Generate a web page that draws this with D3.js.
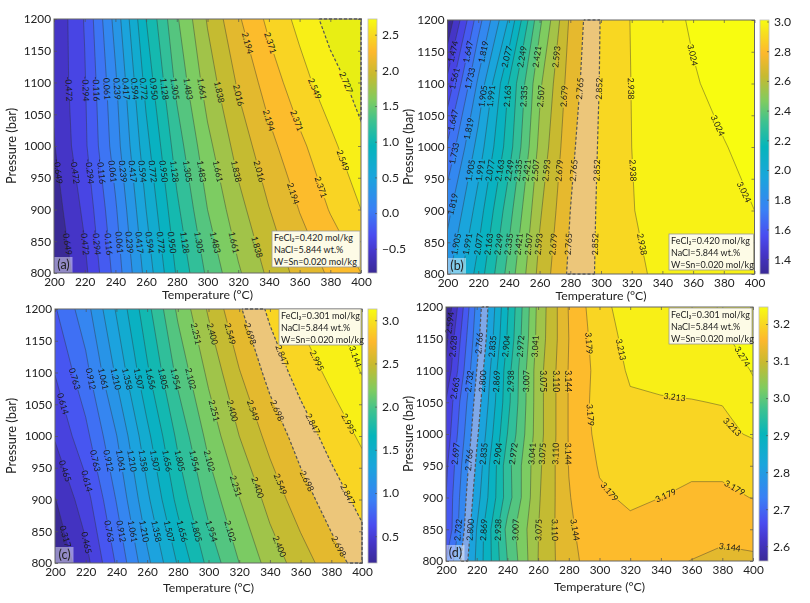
<!DOCTYPE html>
<html>
<head>
<meta charset="utf-8">
<script src="https://cdn.jsdelivr.net/npm/d3@7"></script>
<style>
  body { margin: 0; background: #fff; }
  svg { filter: blur(0.35px); }
  text { font-family: Lato, "Open Sans", sans-serif; fill: #222; }
  .tick line { stroke: #555; stroke-width: .7; }
  .domain { display: none; }
</style>
</head>
<body>
<div id="chart"></div>
<script>
const temps = [200, 220, 240, 260, 280, 300, 320, 340, 360, 380, 400]
const pressures = [800, 900, 1000, 1100, 1200]
const pressuresFine = [800, 850, 900, 950, 1000, 1050, 1100, 1150, 1200]

// one row per pressure, one value per temperature
const zA = [
  [-0.82, -0.52, -0.055, 0.48, 0.97, 1.34, 1.635, 1.875, 2.08, 2.22, 2.371],
  [-0.74, -0.43, 0.035, 0.594, 1.09, 1.483, 1.775, 2.01, 2.20, 2.383, 2.549],
  [-0.66, -0.33, 0.15, 0.71, 1.216, 1.61, 1.91, 2.14, 2.33, 2.506, 2.68],
  [-0.62, -0.31, 0.21, 0.83, 1.35, 1.745, 2.04, 2.275, 2.48, 2.65, 2.80],
  [-0.63, -0.28, 0.305, 0.95, 1.46, 1.855, 2.17, 2.415, 2.60, 2.80, 2.90]
]
const zB = [
  [1.885, 2.11, 2.37, 2.62, 2.785, 2.87, 2.92, 2.955, 2.975, 2.985, 2.995],
  [1.79, 2.03, 2.30, 2.58, 2.765, 2.87, 2.935, 2.965, 2.985, 3.005, 3.024],
  [1.66, 1.94, 2.21, 2.53, 2.745, 2.866, 2.938, 2.962, 2.99, 3.02, 3.05],
  [1.50, 1.835, 2.17, 2.49, 2.72, 2.86, 2.94, 2.975, 3.016, 3.05, 3.08],
  [1.32, 1.695, 2.00, 2.40, 2.695, 2.857, 2.943, 2.99, 3.035, 3.075, 3.11]
]
const zC = [
  [0.19, 0.41, 0.78, 1.17, 1.52, 1.85, 2.102, 2.31, 2.475, 2.63, 2.76],
  [0.31, 0.55, 0.92, 1.325, 1.70, 2.01, 2.245, 2.455, 2.63, 2.77, 2.895],
  [0.48, 0.72, 1.055, 1.465, 1.84, 2.15, 2.40, 2.60, 2.765, 2.905, 3.02],
  [0.62, 0.865, 1.235, 1.63, 1.995, 2.285, 2.54, 2.75, 2.91, 3.03, 3.15],
  [0.75, 1.00, 1.375, 1.755, 2.13, 2.42, 2.68, 2.88, 3.03, 3.14, 3.22]
]
const zD = [
  [2.697, 2.842, 2.972, 3.075, 3.137, 3.157, 3.162, 3.155, 3.143, 3.13, 3.138],
  [2.663, 2.836, 2.983, 3.074, 3.14, 3.16, 3.172, 3.168, 3.165, 3.16, 3.158],
  [2.663, 2.82, 2.955, 3.07, 3.142, 3.174, 3.184, 3.179, 3.172, 3.172, 3.18],
  [2.655, 2.807, 2.958, 3.066, 3.145, 3.182, 3.197, 3.197, 3.186, 3.186, 3.19],
  [2.64, 2.793, 2.938, 3.06, 3.146, 3.19, 3.205, 3.208, 3.21, 3.205, 3.217],
  [2.63, 2.78, 2.926, 3.06, 3.146, 3.195, 3.209, 3.211, 3.212, 3.214, 3.255],
  [2.60, 2.766, 2.922, 3.06, 3.146, 3.192, 3.217, 3.22, 3.222, 3.235, 3.278],
  [2.585, 2.752, 2.907, 3.053, 3.144, 3.198, 3.222, 3.228, 3.235, 3.265, 3.30],
  [2.56, 2.742, 2.90, 3.05, 3.146, 3.205, 3.225, 3.235, 3.245, 3.28, 3.32]
]

const levelsA = [-0.649, -0.472, -0.294, -0.116, 0.061, 0.239, 0.417, 0.594, 0.772, 0.950, 1.128, 1.305, 1.483, 1.661, 1.838, 2.016, 2.194, 2.371, 2.549, 2.727]
const levelsB = [1.389, 1.474, 1.561, 1.647, 1.733, 1.819, 1.905, 1.991, 2.077, 2.163, 2.249, 2.335, 2.421, 2.507, 2.593, 2.679, 2.765, 2.852, 2.938, 3.024]
const levelsC = [0.317, 0.465, 0.614, 0.763, 0.912, 1.061, 1.210, 1.358, 1.507, 1.656, 1.805, 1.954, 2.102, 2.251, 2.400, 2.549, 2.698, 2.847, 2.995, 3.144]
const levelsD = [2.594, 2.628, 2.663, 2.697, 2.732, 2.766, 2.800, 2.835, 2.869, 2.904, 2.938, 2.972, 3.007, 3.041, 3.075, 3.110, 3.144, 3.179, 3.213, 3.274]

// contour labels: [pressure, levels, optional temperature hint]
const rowA = [-0.472, -0.294, -0.116, 0.061, 0.239, 0.417, 0.594, 0.772, 0.950, 1.128, 1.305, 1.483, 1.661]
const labelsA = [
  [1090, rowA], [1085, [1.838]], [1080, [2.016]], [1162, [2.194, 2.371]], [1040, [2.194, 2.371]], [1090, [2.549]], [1100, [2.727]],
  [960, [-0.649]], [960, rowA], [960, [1.838, 2.016]], [925, [2.194]], [935, [2.371]], [977, [2.549]],
  [848, [-0.649]], [848, rowA], [841, [1.838]]
]
const labelsB = [
  [1150, [1.474, 1.647, 1.819]], [1142, [2.077, 2.249, 2.421, 2.593]],
  [1108, [1.561, 1.733]], [1080, [1.905, 1.991, 2.163, 2.335, 2.507, 2.679]], [1092, [2.765, 2.852, 2.938]],
  [1042, [1.647]], [1029, [1.819]], [990, [1.733]],
  [963, [1.905, 1.991, 2.077, 2.163, 2.249, 2.335, 2.421, 2.507, 2.593, 2.679, 2.765, 2.852, 2.938]],
  [910, [1.819]],
  [847, [1.905, 1.991, 2.077, 2.163, 2.249, 2.335, 2.421, 2.507, 2.593, 2.679, 2.765, 2.852, 2.938]],
  [1145, [3.024]], [1034, [3.024]], [929, [3.024]]
]
const rowC = [0.763, 0.912, 1.061, 1.210, 1.358, 1.507, 1.656, 1.805, 1.954, 2.102]
const labelsC = [
  [1090, rowC], [1161, [2.251, 2.400, 2.549, 2.698]], [1127, [2.847]], [1119, [2.995]], [1125, [3.144]],
  [1051, [0.614]], [1040, [2.251, 2.400, 2.549, 2.698]], [1019, [2.847, 2.995]],
  [961, rowC], [945, [0.465]], [929, [0.614, 2.698]], [921, [2.251]], [919, [2.400]], [924, [2.549]], [908, [2.847]],
  [850, rowC], [842, [0.317]], [832, [0.465]], [826, [2.400, 2.698]]
]
const labelsD = [
  [1175, [2.594]], [1138, [2.628, 2.835, 2.904, 2.972, 3.041]], [1143, [2.766, 3.179]], [1133, [3.213]], [1122, [3.274]],
  [1083, [2.732, 2.800, 2.869, 2.938, 3.007, 3.075, 3.110, 3.144]], [1072, [2.663]],
  [1059, [3.213], 349], [1017, [3.213], 389], [1030, [3.179]],
  [969, [2.697, 2.835, 2.904, 2.972, 3.041, 3.075, 3.110, 3.144]], [959, [2.766]],
  [900, [3.179], 303], [904, [3.179], 343], [915, [3.179], 388],
  [849, [2.732, 2.800, 2.869, 2.938, 3.007, 3.075, 3.110, 3.144]], [824, [3.144], 385]
]

const noteA = ["FeCl₂=0.420 mol/kg", "NaCl=5.844 wt.%", "W=Sn=0.020 mol/kg"]
const noteC = ["FeCl₂=0.301 mol/kg", "NaCl=5.844 wt.%", "W=Sn=0.020 mol/kg"]

const ticksA = [-0.5, 0, 0.5, 1, 1.5, 2, 2.5]
const ticksB = [1.4, 1.6, 1.8, 2, 2.2, 2.4, 2.6, 2.8, 3]
const ticksC = [0.5, 1, 1.5, 2, 2.5, 3]
const ticksD = [2.6, 2.7, 2.8, 2.9, 3, 3.1, 3.2]

const rampStops = [
  [0, "#3a2a96"], [0.08, "#4535c8"], [0.15, "#4a4cf0"], [0.25, "#3a80f5"], [0.38, "#1aa5dc"], [0.5, "#05b5bb"],
  [0.6, "#3fc28f"], [0.68, "#7fcc60"], [0.78, "#c7ba30"], [0.87, "#fdb82d"], [0.95, "#f7e01f"], [1, "#f8fc10"]
]
const ramp = d3.scaleLinear().domain(rampStops.map(d => d[0])).range(rampStops.map(d => d[1])).clamp(true)

const panels = [
  { id: "a", z: zA, ps: pressures, levels: levelsA, labels: labelsA, note: noteA, ticks: ticksA, domain: [-0.84, 2.72],
    left: 54, top: 19, barLeft: 368, band: [2.727, null], bandFill: "#e8ee14", noteAt: [272, 231], titleX: 12, titleDy: 26 },
  { id: "b", z: zB, ps: pressures, levels: levelsB, labels: labelsB, note: noteA, ticks: ticksB, domain: [1.30, 3.01],
    left: 447.5, top: 20, barLeft: 760, band: [2.765, 2.852], bandFill: "#ecc67a", noteAt: [669, 234], titleX: 409, titleDy: 26 },
  { id: "c", z: zC, ps: pressures, levels: levelsC, labels: labelsC, note: noteC, ticks: ticksC, domain: [0.19, 3.13],
    left: 55, top: 309, barLeft: 368, band: [2.698, 2.847], bandFill: "#ecc67a", noteAt: [279, 309], titleX: 12, titleDy: 29 },
  { id: "d", z: zD, ps: pressuresFine, levels: levelsD, labels: labelsD, note: noteC, ticks: ticksD, domain: [2.56, 3.246],
    left: 446, top: 307, barLeft: 759, band: [2.766, 2.800], bandFill: "#7fa8e8", noteAt: [669, 308], titleX: 409, titleDy: 30 }
]

const plotW = 307, plotH = 254, barW = 9

const svg = d3.select("#chart").append("svg").attr("width", 810).attr("height", 603)
const defs = svg.append("defs")

panels.forEach(drawPanel)

function drawPanel(p) {
  const x = d3.scaleLinear().domain([200, 400]).range([p.left, p.left + plotW])
  const y = d3.scaleLinear().domain([800, 1200]).range([p.top + plotH, p.top])
  const c = d3.scaleLinear().domain(p.domain).range([0, 1])
  const step = p.levels[1] - p.levels[0]
  // each band takes the colour of its middle value
  const color = v => ramp(c(v + step / 2))
  const g = svg.append("g")

  // d3.contours puts value i at coordinate i + 0.5
  const toT = d3.scaleLinear().domain([0.5, temps.length - 0.5]).range([200, 400])
  const toP = d3.scaleLinear().domain([0.5, p.ps.length - 0.5]).range([800, 1200])
  const path = d3.geoPath(d3.geoTransform({
    point(a, b) { this.stream.point(x(toT(a)), y(toP(b))) }
  }))
  const contours = d3.contours().size([temps.length, p.ps.length]).thresholds(p.levels)(p.z.flat())

  defs.append("clipPath").attr("id", "clip-" + p.id)
    .append("rect").attr("x", p.left).attr("y", p.top).attr("width", plotW).attr("height", plotH)

  const inner = g.append("g").attr("clip-path", `url(#clip-${p.id})`)
  inner.append("rect").attr("x", p.left).attr("y", p.top).attr("width", plotW).attr("height", plotH)
    .attr("fill", ramp(0))

  inner.selectAll("path.fill").data(contours).enter().append("path")
    .attr("class", "fill")
    .attr("d", path)
    .attr("fill", d => d.value === p.band[0] ? p.bandFill : color(d.value))

  // labels first, their boxes cut the lines
  const spots = placeLabels(p, x, y)
  const mask = defs.append("mask").attr("id", "gap-" + p.id).attr("maskUnits", "userSpaceOnUse")
    .attr("x", 0).attr("y", 0).attr("width", 810).attr("height", 603)
  mask.append("rect").attr("width", 810).attr("height", 603).attr("fill", "#fff")
  mask.selectAll("rect.gap").data(spots).enter().append("rect")
    .attr("class", "gap").attr("x", -11.5).attr("y", -3.5).attr("width", 23).attr("height", 7).attr("fill", "#000")
    .attr("transform", d => `translate(${d.px},${d.py}) rotate(${d.angle})`)

  const lines = inner.append("g").attr("mask", `url(#gap-${p.id})`).attr("fill", "none")
  lines.selectAll("path").data(contours).enter().append("path")
    .attr("d", path)
    .attr("stroke", d => p.band.includes(d.value) ? "#555" : "#333")
    .attr("stroke-opacity", d => p.band.includes(d.value) ? 1 : 0.7)
    .attr("stroke-width", d => p.band.includes(d.value) ? 1.2 : 0.6)
    .attr("stroke-dasharray", d => p.band.includes(d.value) ? "3,2" : null)

  // the highlighted band also runs dashed along the frame
  const bandD = contours.filter(d => p.band.includes(d.value)).map(path).join("")
  defs.append("clipPath").attr("id", "band-" + p.id)
    .append("path").attr("d", bandD).attr("clip-rule", "evenodd")
  g.append("g").attr("clip-path", `url(#band-${p.id})`)
    .append("rect").attr("x", p.left).attr("y", p.top).attr("width", plotW).attr("height", plotH)
    .attr("fill", "none").attr("stroke", "#555").attr("stroke-width", 1.6).attr("stroke-dasharray", "3,2")

  g.append("g").selectAll("text").data(spots).enter().append("text")
    .attr("transform", d => `translate(${d.px},${d.py}) rotate(${d.angle})`)
    .attr("text-anchor", "middle").attr("dy", "0.35em")
    .attr("font-size", 8.6).style("fill", "#1a1a1a")
    .text(d => d.level.toFixed(3))

  // frame
  g.append("rect").attr("x", p.left).attr("y", p.top).attr("width", plotW).attr("height", plotH)
    .attr("fill", "none").attr("stroke", "#666").attr("stroke-width", 1)

  // axes, ticks inside on all four sides
  const axisFont = 11.8
  g.append("g").attr("transform", `translate(0,${p.top + plotH})`)
    .call(d3.axisBottom(x).tickValues(temps).tickSize(-3).tickPadding(5))
    .call(a => a.selectAll("text").attr("font-size", axisFont).style("font-family", "Lato"))
  g.append("g").attr("transform", `translate(${p.left},0)`)
    .call(d3.axisLeft(y).tickValues(pressuresFine).tickSize(-3).tickPadding(3).tickFormat(d3.format("d")))
    .call(a => a.selectAll("text").attr("font-size", axisFont).style("font-family", "Lato"))
  g.append("g").attr("transform", `translate(0,${p.top})`)
    .call(d3.axisTop(x).tickValues(temps).tickSize(-3).tickFormat(""))
  g.append("g").attr("transform", `translate(${p.left + plotW},0)`)
    .call(d3.axisRight(y).tickValues(pressuresFine).tickSize(-3).tickFormat(""))

  g.append("text").attr("x", p.left + plotW / 2).attr("y", p.top + plotH + p.titleDy)
    .attr("text-anchor", "middle").attr("font-size", 12.3).text("Temperature (°C)")
  g.append("text").attr("transform", `translate(${p.titleX + 4},${p.top + plotH / 2}) rotate(-90)`)
    .attr("text-anchor", "middle").attr("font-size", 12.8).text("Pressure (bar)")

  // panel letter
  g.append("rect").attr("x", p.left + 0.5).attr("y", p.top + plotH - 16).attr("width", 18).attr("height", 15.5)
    .attr("fill", "#fff").attr("fill-opacity", 0.45)
  g.append("text").attr("x", p.left + 9.5).attr("y", p.top + plotH - 4)
    .attr("text-anchor", "middle").attr("font-size", 12.5).text(`(${p.id})`)

  // conditions box
  const note = g.append("g").attr("transform", `translate(${p.noteAt[0]},${p.noteAt[1]})`)
  note.append("rect").attr("width", p.left + plotW - p.noteAt[0] - 1).attr("height", 36)
    .attr("fill", "#fdfbe6").attr("stroke", "#999").attr("stroke-width", 0.8)
  note.selectAll("text").data(p.note).enter().append("text")
    .attr("x", 2).attr("y", (d, i) => 10 + i * 12).attr("font-size", 9).text(d => d)

  // colorbar
  const barY = d3.scaleLinear().domain(p.domain).range([p.top + plotH, p.top])
  const grad = defs.append("linearGradient").attr("id", "bar-" + p.id)
    .attr("x1", 0).attr("x2", 0).attr("y1", 1).attr("y2", 0)
  grad.selectAll("stop").data(rampStops).enter().append("stop")
    .attr("offset", d => d[0]).attr("stop-color", d => d[1])
  g.append("rect").attr("x", p.barLeft).attr("y", p.top).attr("width", barW).attr("height", plotH)
    .attr("fill", `url(#bar-${p.id})`).attr("stroke", "#bbb").attr("stroke-width", 0.8)
  g.append("g").attr("transform", `translate(${p.barLeft + barW},0)`)
    .call(d3.axisRight(barY).tickValues(p.ticks).tickSize(-2).tickPadding(5).tickFormat(d => d3.format(".1f")(d).replace("-", "−")))
    .call(a => a.selectAll("text").attr("font-size", axisFont + 0.4).style("font-family", "Lato"))
}

// bilinear read of the grid at a temperature and pressure
function field(p, t, pr) {
  const n = p.ps.length - 1
  const fx = Math.max(0, Math.min(temps.length - 1.001, (t - 200) / 20))
  const fy = Math.max(0, Math.min(n - 0.001, (pr - 800) / (400 / n)))
  const i = Math.floor(fx), j = Math.floor(fy), u = fx - i, v = fy - j
  return (1 - v) * ((1 - u) * p.z[j][i] + u * p.z[j][i + 1]) + v * ((1 - u) * p.z[j + 1][i] + u * p.z[j + 1][i + 1])
}

function placeLabels(p, x, y) {
  const pxT = plotW / 200, pxP = plotH / 400
  const out = []
  p.labels.forEach(row => {
    const pr0 = row[0], hint = row[2]
    row[1].forEach(level => {
      let t = hint
      if (t === undefined) {
        for (let s = 200; s < 400; s += 0.5) {
          if ((field(p, s, pr0) - level) * (field(p, s + 0.5, pr0) - level) <= 0) { t = s + 0.25; break }
        }
      }
      if (t === undefined) return
      let pr = pr0, gx = 0, gy = 0
      for (let k = 0; k < 4; k++) {
        gx = (field(p, t + 2, pr) - field(p, t - 2, pr)) / 4 / pxT
        gy = -(field(p, t, pr + 4) - field(p, t, pr - 4)) / 8 / pxP
        const dz = level - field(p, t, pr), g2 = gx * gx + gy * gy
        if (g2 === 0) break
        t += dz * gx / g2 / pxT
        pr -= dz * gy / g2 / pxP
      }
      let angle = Math.atan2(gx, -gy) * 180 / Math.PI
      if (angle > 90) angle -= 180
      if (angle <= -90) angle += 180
      out.push({ level, px: x(t), py: y(pr), angle })
    })
  })
  return out
}
</script>
</body>
</html>
